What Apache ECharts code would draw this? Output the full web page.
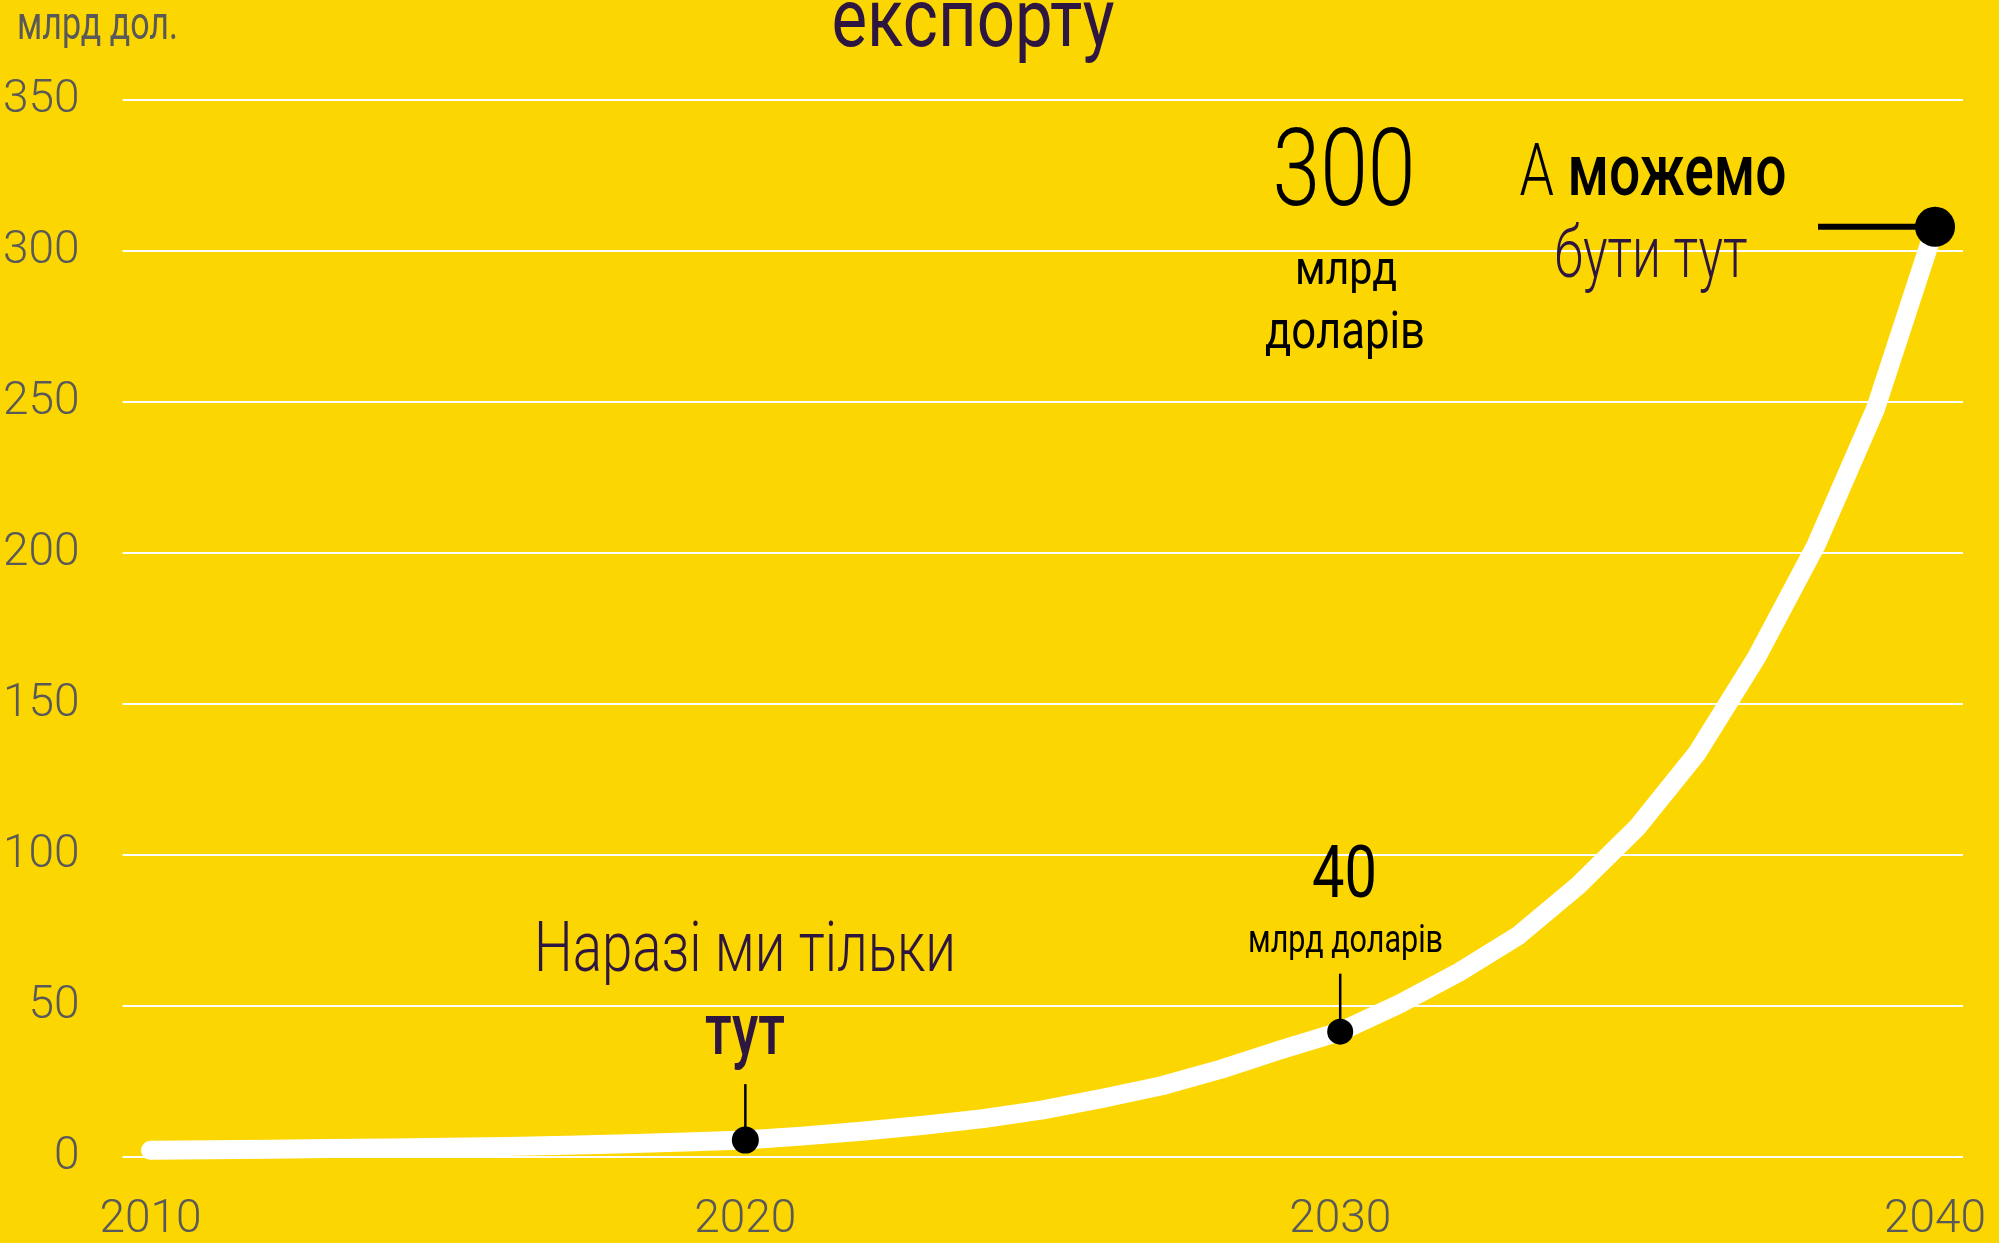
<!DOCTYPE html>
<html>
<head>
<meta charset="utf-8">
<script src="https://cdn.jsdelivr.net/npm/echarts@6/dist/echarts.min.js"></script>
<style>
  html, body { margin: 0; background: #fcd600; }
  #main { width: 1999px; height: 1243px; }
</style>
</head>
<body>
<div id="main"></div>
<script>
// роки та обсяг ІТ-експорту, млрд дол.
var years = [2010, 2011, 2012, 2013, 2014, 2015, 2016, 2017, 2018, 2019, 2020,
  2021, 2022, 2023, 2024, 2025, 2026, 2027, 2028, 2029, 2030,
  2031, 2032, 2033, 2034, 2035, 2036, 2037, 2038, 2039, 2040];
var exportValues = [2.2, 2.4, 2.6, 2.8, 3.0, 3.2, 3.5, 3.9, 4.4, 5.0, 5.6,
  7.0, 8.6, 10.5, 12.7, 15.6, 19.4, 23.6, 29.1, 35.5, 41.5,
  50.7, 61.2, 73.4, 89.9, 109.3, 133.8, 165.5, 202.6, 247.8, 308];
var markYears = [2020, 2030, 2040];
var xTicks = [2010, 2020, 2030, 2040];
var yTicks = [0, 50, 100, 150, 200, 250, 300, 350];

var BG = '#fcd600';
var PURPLE = '#2d1640';
var GRAY = '#595959';
var FONT = 'Roboto';

// стиль виносок для точок 2020 / 2030 / 2040
var markStyle = [
  { r: 13.5, dx: 0, dy: -56, w: 2.5 },
  { r: 13, dx: 0, dy: -58, w: 2.5 },
  { r: 20, dx: -117, dy: 0, w: 6 }
];

var lineData = years.map(function (y, i) { return [y, exportValues[i]]; });
var markData = markYears.map(function (y) { return [y, exportValues[years.indexOf(y)]]; });

// підганяємо ширину тексту (шрифт вужчий в оригіналі)
var ctx = document.createElement('canvas').getContext('2d');
function textW(text, weight, size) {
  ctx.font = weight + ' ' + size + 'px ' + FONT;
  return ctx.measureText(text).width;
}
function label(text, x, y, size, weight, color, width, align) {
  return {
    type: 'text',
    x: x, y: y,
    scaleX: width / textW(text, weight, size),
    z: 10,
    style: {
      text: text,
      font: weight + ' ' + size + 'px ' + FONT,
      fill: color,
      align: align || 'center',
      verticalAlign: 'middle'
    }
  };
}

var wA = textW('А ', 300, 72), wM = textW('можемо', 500, 72);
var graphics = [
  label('експорту', 973, 25, 82, 400, PURPLE, 283),
  label('млрд дол.', 17, 27, 47, 400, GRAY, 161, 'left'),
  label('300', 1344, 178, 108, 300, '#000', 143),
  label('млрд', 1346, 272, 47, 400, '#000', 102),
  label('доларів', 1345, 335, 51, 400, '#000', 160),
  label('бути тут', 1651, 258.5, 72, 300, PURPLE, 193),
  label('Наразі ми тільки', 745, 953, 70, 300, PURPLE, 422),
  label('тут', 745, 1035.5, 72, 500, PURPLE, 80),
  label('40', 1344.5, 878.5, 72, 400, '#000', 65),
  label('млрд доларів', 1345.5, 942, 38, 400, '#000', 195),
  {
    type: 'text',
    x: 1653, y: 176.5,
    scaleX: 267 / (wA + wM),
    z: 10,
    style: {
      text: '{a|А }{b|можемо}',
      align: 'center',
      verticalAlign: 'middle',
      rich: {
        a: { fontFamily: FONT, fontSize: 72, fontWeight: 300, color: PURPLE },
        b: { fontFamily: FONT, fontSize: 72, fontWeight: 500, color: PURPLE }
      }
    }
  }
];

var chart = echarts.init(document.getElementById('main'));
chart.setOption({
  backgroundColor: BG,
  animation: false,
  grid: { left: 122, right: 36, top: 100, bottom: 86, containLabel: false },
  xAxis: {
    type: 'value',
    min: 2009.53,
    max: 2040.47,
    axisLine: { show: false },
    axisTick: { show: false },
    splitLine: { show: false },
    axisLabel: {
      customValues: xTicks,
      margin: 40,
      color: GRAY,
      fontFamily: FONT,
      fontWeight: 300,
      fontSize: 46,
      formatter: function (v) { return String(v); }
    }
  },
  yAxis: {
    type: 'value',
    min: 0,
    max: 350,
    interval: 50,
    axisLine: { show: false },
    axisTick: { show: false },
    splitLine: { lineStyle: { color: '#ffffff', width: 2 } },
    axisLabel: {
      customValues: yTicks,
      margin: 43,
      color: GRAY,
      fontFamily: FONT,
      fontWeight: 300,
      fontSize: 46
    }
  },
  graphic: graphics,
  series: [
    {
      type: 'line',
      data: lineData,
      showSymbol: false,
      smooth: false,
      lineStyle: { color: '#ffffff', width: 19, cap: 'round', join: 'round' },
      z: 3
    },
    {
      type: 'custom',
      data: markData,
      z: 5,
      renderItem: function (params, api) {
        var p = api.coord([api.value(0), api.value(1)]);
        var s = markStyle[params.dataIndex];
        return {
          type: 'group',
          children: [
            {
              type: 'line',
              shape: { x1: p[0] + s.dx, y1: p[1] + s.dy, x2: p[0], y2: p[1] },
              style: { stroke: '#000', lineWidth: s.w }
            },
            {
              type: 'circle',
              shape: { cx: p[0], cy: p[1], r: s.r },
              style: { fill: '#000' }
            }
          ]
        };
      }
    }
  ]
});
</script>
</body>
</html>
